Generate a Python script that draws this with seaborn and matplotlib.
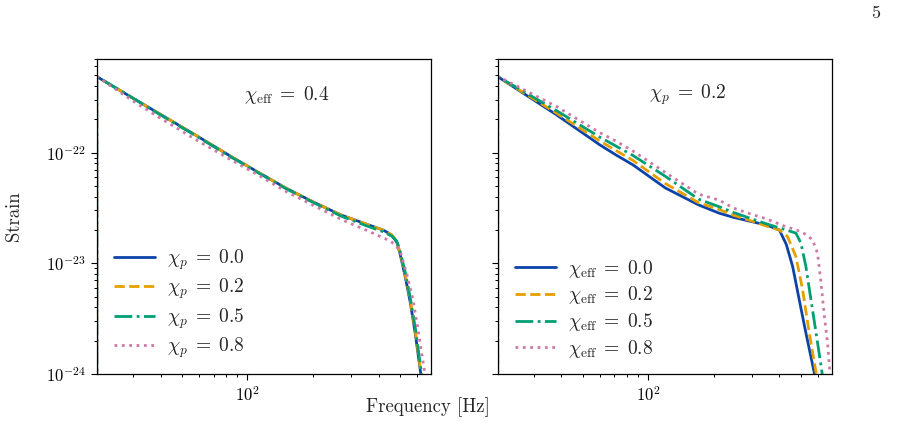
import matplotlib
matplotlib.use("Agg")
import matplotlib.pyplot as plt
import numpy as np
import pandas as pd
import seaborn as sns

# left panel: chi_eff = 0.4, chi_p varies  (strain as log10)
left_f_p00 = [20.4, 20.4, 30, 40, 60, 85, 115, 150, 200, 270, 350, 420, 460, 485, 500, 530, 560, 590, 625, 670]
left_h_p00 = [-30, -21.313, -21.51, -21.655, -21.86, -22.04, -22.19, -22.32, -22.445, -22.565, -22.645,
              -22.70, -22.745, -22.81, -22.90, -23.12, -23.36, -23.64, -24.0, -24.45]
left_f_p02 = [20.4, 20.4, 30, 40, 60, 85, 115, 150, 200, 270, 350, 420, 460, 485, 500, 530, 560, 590, 625, 670]
left_h_p02 = [-30, -21.313, -21.51, -21.655, -21.86, -22.04, -22.19, -22.32, -22.445, -22.565, -22.645,
              -22.70, -22.745, -22.80, -22.89, -23.10, -23.34, -23.62, -23.98, -24.42]
left_f_p05 = [20.4, 20.4, 30, 40, 60, 85, 115, 150, 200, 270, 350, 420, 460, 485, 500, 530, 560, 590, 625, 670]
left_h_p05 = [-30, -21.313, -21.51, -21.66, -21.865, -22.045, -22.195, -22.325, -22.45, -22.575, -22.66,
              -22.715, -22.755, -22.80, -22.88, -23.08, -23.32, -23.59, -23.95, -24.40]
left_f_p08 = [20.4, 20.4, 30, 40, 60, 85, 115, 150, 200, 270, 350, 420, 455, 500, 538, 576, 609, 635, 660, 700]
left_h_p08 = [-30, -21.313, -21.535, -21.69, -21.90, -22.07, -22.215, -22.35, -22.475, -22.605, -22.70,
              -22.77, -22.80, -22.88, -23.09, -23.33, -23.62, -23.85, -24.05, -24.45]

# right panel: chi_p = 0.2, chi_eff varies
right_f_e00 = [20.4, 20.4, 38, 60, 71, 85, 101, 120, 170, 212, 245, 300, 350, 400, 430, 460, 493, 529, 578, 620]
right_h_e00 = [-30, -21.313, -21.659, -21.93, -22.02, -22.11, -22.215, -22.32, -22.472, -22.548, -22.584,
               -22.625, -22.655, -22.70, -22.83, -23.03, -23.33, -23.63, -23.99, -24.35]
right_f_e02 = [20.4, 20.4, 38, 60, 71, 85, 120, 170, 212, 245, 300, 350, 400, 436, 476, 511, 548, 589, 630]
right_h_e02 = [-30, -21.313, -21.644, -21.895, -21.98, -22.07, -22.28, -22.452, -22.515, -22.565, -22.62,
               -22.665, -22.70, -22.76, -22.94, -23.24, -23.63, -23.99, -24.35]
right_f_e05 = [20.4, 20.4, 38, 60, 71, 85, 120, 170, 212, 245, 300, 350, 428, 476, 502, 529, 558, 589, 621, 660]
right_h_e05 = [-30, -21.313, -21.621, -21.86, -21.94, -22.025, -22.215, -22.42, -22.49, -22.54, -22.60,
               -22.645, -22.698, -22.728, -22.818, -23.03, -23.33, -23.63, -23.93, -24.3]
right_f_e08 = [20.4, 20.4, 38, 60, 71, 85, 120, 170, 212, 245, 300, 350, 428, 480, 530, 568, 598, 621, 643, 665, 682, 710]
right_h_e08 = [-30, -21.31, -21.584, -21.82, -21.895, -21.985, -22.18, -22.375, -22.43, -22.50, -22.56,
               -22.60, -22.67, -22.70, -22.74, -22.79, -22.909, -23.18, -23.48, -23.72, -23.99, -24.3]

left_labels = [r"$\chi_p \;=\; 0.0$", r"$\chi_p \;=\; 0.2$", r"$\chi_p \;=\; 0.5$", r"$\chi_p \;=\; 0.8$"]
right_labels = [r"$\chi_{\rm eff} \;=\; 0.0$", r"$\chi_{\rm eff} \;=\; 0.2$",
                r"$\chi_{\rm eff} \;=\; 0.5$", r"$\chi_{\rm eff} \;=\; 0.8$"]
y_ticks = [1e-24, 1e-23, 1e-22]

COLORS = ["#0b43a8", "#E69F00", "#009E73", "#CC79A7"]
STYLES = ["-", "--", "-.", ":"]

sns.set_theme(style="ticks")
plt.rcParams.update({
    "font.family": ["cmr10", "DejaVu Serif"],
    "mathtext.fontset": "cm",
    "axes.formatter.use_mathtext": True,
    "axes.edgecolor": "black",
    "axes.linewidth": 0.9,
    "xtick.color": "black",
    "ytick.color": "black",
    "xtick.major.size": 4.5,
    "ytick.major.size": 4.5,
    "xtick.minor.size": 2.5,
    "ytick.minor.size": 2.5,
    "xtick.major.width": 0.8,
    "ytick.major.width": 0.8,
    "xtick.minor.width": 0.7,
    "ytick.minor.width": 0.7,
    "xtick.labelsize": 12,
    "ytick.labelsize": 12,
})


def draw_panel(ax, series, labels, note):
    for (f, h), lab, c, ls in zip(series, labels, COLORS, STYLES):
        df = pd.DataFrame({"freq": f, "strain": 10.0 ** np.array(h)})
        sns.lineplot(data=df, x="freq", y="strain", ax=ax, color=c, linestyle=ls,
                     lw=2, label=lab, sort=False, estimator=None)
    ax.set(xscale="log", yscale="log", xlim=(20.4, 695), ylim=(1e-24, 7e-22))
    ax.set_yticks(y_ticks)
    ax.set_xlabel("")
    ax.set_ylabel("")
    ax.legend(loc="lower left", bbox_to_anchor=(0, -0.012), frameon=False, fontsize=14,
              handlelength=2.1, handletextpad=0.6, labelspacing=0.25)
    ax.text(0.57, 0.886, note, transform=ax.transAxes, ha="center", va="center", fontsize=14)


fig, (ax1, ax2) = plt.subplots(1, 2, sharey=True, figsize=(9.13, 4.22), dpi=100)
fig.subplots_adjust(left=0.106, right=0.911, bottom=0.114, top=0.860, wspace=0.2)

draw_panel(ax1, [(left_f_p00, left_h_p00), (left_f_p02, left_h_p02),
                 (left_f_p05, left_h_p05), (left_f_p08, left_h_p08)],
           left_labels, r"$\chi_{\rm eff} \;=\; 0.4$")
draw_panel(ax2, [(right_f_e00, right_h_e00), (right_f_e02, right_h_e02),
                 (right_f_e05, right_h_e05), (right_f_e08, right_h_e08)],
           right_labels, r"$\chi_p \;=\; 0.2$")

fig.text(14 / 913, 1 - 216 / 422, "Strain", rotation=90, ha="center", va="center", fontsize=13.5)
fig.text(428 / 913, 1 - 407 / 422, "Frequency [Hz]", ha="center", va="center", fontsize=13.5)
fig.text(876 / 913, 1 - 13 / 422, "5", ha="center", va="center", fontsize=13)

fig.savefig("out.png", dpi=100)
